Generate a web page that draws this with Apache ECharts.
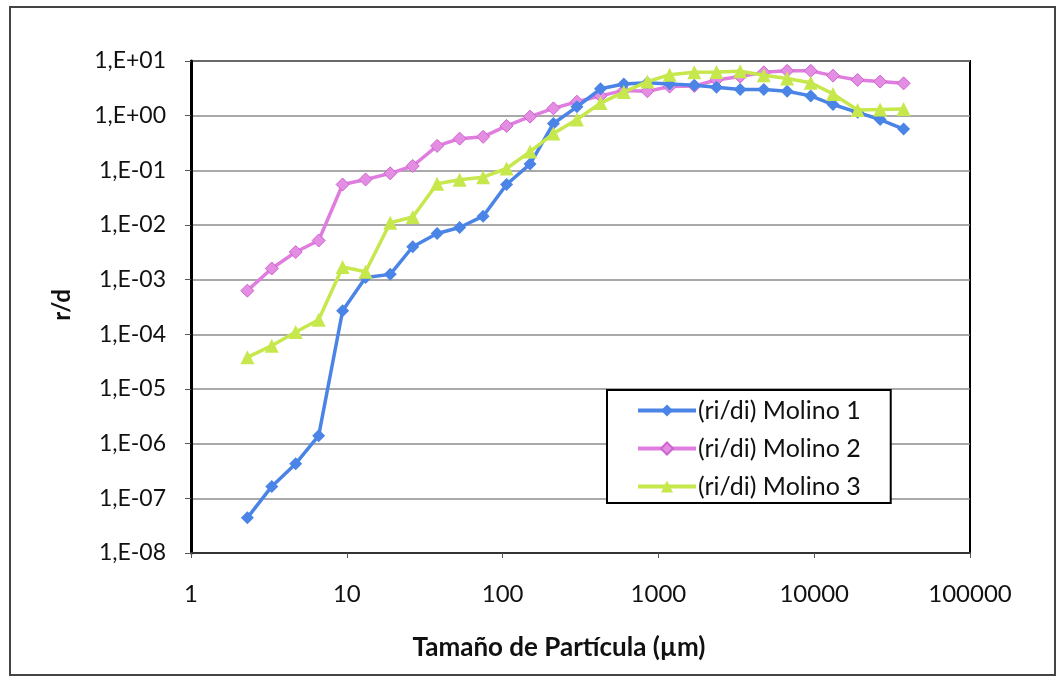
<!DOCTYPE html>
<html>
<head>
<meta charset="utf-8">
<script src="https://cdn.jsdelivr.net/npm/echarts@6/dist/echarts.min.js"></script>
<style>
html,body{margin:0;padding:0;background:#fff;}
#chart{width:1059px;height:678px;}
</style>
</head>
<body>
<div id="chart"></div>
<script>
// Particle sizes (µm)
const sizes = [2.3, 3.3, 4.7, 6.6, 9.4, 13.2, 19, 26.5, 38, 53, 75, 106, 150, 212, 300, 425, 600, 850, 1180, 1700, 2360, 3350, 4750, 6700, 9500, 13200, 19000, 26500, 37500];
// r/d values
const molino1 = [4.4e-8, 1.65e-7, 4.3e-7, 1.4e-6, 2.7e-4, 1.1e-3, 1.25e-3, 4.0e-3, 7.0e-3, 9.0e-3, 1.45e-2, 5.5e-2, 0.13, 0.72, 1.45, 3.1, 3.8, 4.0, 3.8, 3.6, 3.3, 3.0, 3.0, 2.8, 2.3, 1.6, 1.15, 0.85, 0.57];
const molino2 = [6.3e-4, 1.6e-3, 3.2e-3, 5.2e-3, 5.5e-2, 6.8e-2, 8.8e-2, 0.12, 0.28, 0.38, 0.41, 0.65, 0.96, 1.36, 1.8, 2.3, 2.9, 2.8, 3.4, 3.5, 4.5, 5.2, 6.2, 6.6, 6.6, 5.4, 4.5, 4.2, 3.9];
const molino3 = [3.8e-5, 6.2e-5, 1.1e-4, 1.85e-4, 1.7e-3, 1.4e-3, 1.1e-2, 1.4e-2, 5.7e-2, 6.7e-2, 7.5e-2, 0.108, 0.22, 0.47, 0.85, 1.7, 2.7, 4.2, 5.6, 6.2, 6.3, 6.5, 5.5, 4.8, 4.0, 2.5, 1.27, 1.3, 1.32];
const seriesNames = ['(ri/di) Molino 1', '(ri/di) Molino 2', '(ri/di) Molino 3'];
const xTitle = 'Tamaño de Partícula (µm)';
const yTitle = 'r/d';

const FONT = 'Lato';
function pairs(ys){ return sizes.map((x,i)=>[x, ys[i]]); }
function yLabel(v){
  const e = Math.round(Math.log10(v));
  const a = Math.abs(e);
  return '1,E' + (e < 0 ? '-' : '+') + (a < 10 ? '0' + a : '' + a);
}

const chart = echarts.init(document.getElementById('chart'), null, {renderer:'canvas'});
chart.setOption({
  backgroundColor:'#fff',
  animation:false,
  textStyle:{fontFamily:FONT},
  grid:{left:191, top:61, right:89, bottom:125, show:true, borderColor:'#000', borderWidth:2, backgroundColor:'#fff', containLabel:false},
  xAxis:{
    type:'log', logBase:10, min:1, max:100000, interval:1,
    axisLine:{show:true, lineStyle:{color:'#333', width:2}},
    axisTick:{show:true, length:5, lineStyle:{color:'#555', width:1}},
    splitLine:{show:false},
    minorTick:{show:false},
    axisLabel:{color:'#111', fontSize:24, fontFamily:FONT, margin:29, formatter:(v)=>String(Math.round(v))}
  },
  yAxis:{
    type:'log', logBase:10, min:1e-8, max:10, interval:1,
    axisLine:{show:true, lineStyle:{color:'#000', width:3}},
    axisTick:{show:true, length:6, lineStyle:{color:'#555', width:1}},
    splitLine:{show:true, lineStyle:{color:'#8c8c8c', width:1.5}},
    axisLabel:{color:'#111', fontSize:23, fontFamily:FONT, margin:25, formatter:yLabel}
  },
  legend:{
    orient:'vertical', left:607, top:390,
    backgroundColor:'#fff', borderColor:'#000', borderWidth:2,
    padding:[8, 30, 4, 29], itemGap:13, itemWidth:58, itemHeight:15,
    lineStyle:{width:4},
    textStyle:{fontSize:25, fontFamily:FONT, color:'#111', padding:[0,0,0,-3]},
    data:seriesNames
  },
  graphic:[
    {type:'rect', shape:{x:10, y:7, width:1045, height:668}, style:{fill:'none', stroke:'#444', lineWidth:2}, z:-10},
    {type:'text', x:62, y:305, rotation:Math.PI/2, style:{text:yTitle, font:'bold 24px ' + FONT, fill:'#111', textAlign:'center', textVerticalAlign:'middle'}},
    {type:'text', x:559, y:648, style:{text:xTitle, font:'bold 26px ' + FONT, fill:'#111', textAlign:'center', textVerticalAlign:'middle'}}
  ],
  series:[
    {name:seriesNames[0], type:'line', data:pairs(molino1), symbol:'diamond', symbolSize:13, lineStyle:{width:3.5, color:'#4a84e6'}, itemStyle:{color:'#4a84e6'}, z:3},
    {name:seriesNames[1], type:'line', data:pairs(molino2), symbol:'diamond', symbolSize:13, lineStyle:{width:3.5, color:'#df7ede'}, itemStyle:{color:'#e48ee3', borderColor:'#cf63cf', borderWidth:1}, z:2},
    {name:seriesNames[2], type:'line', data:pairs(molino3), symbol:'triangle', symbolSize:14, lineStyle:{width:3.5, color:'#c6e84c'}, itemStyle:{color:'#c6e84c'}, z:4}
  ]
});
</script>
</body>
</html>
